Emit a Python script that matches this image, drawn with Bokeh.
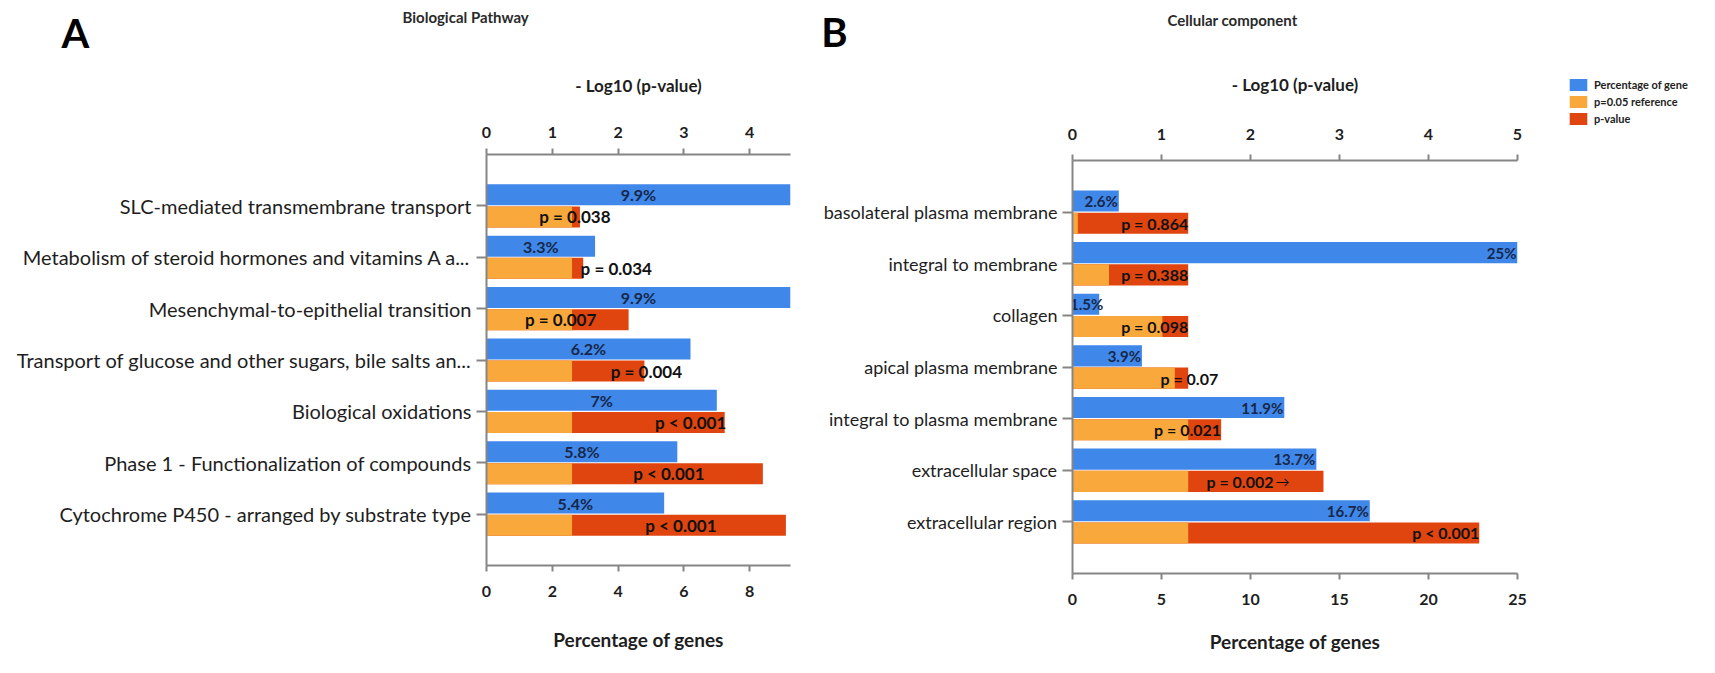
from bokeh.plotting import figure
from bokeh.models import (Range1d, LinearAxis, FixedTicker, Label, Legend, LegendItem,
                          ColumnDataSource)
from bokeh.layouts import row, column
from bokeh.embed import file_html
from bokeh.resources import INLINE
from bokeh.core.properties import value

# ------------------------------------------------------------------ data
bp_categories = ["SLC-mediated transmembrane transport",
                 "Metabolism of steroid hormones and vitamins A a...",
                 "Mesenchymal-to-epithelial transition",
                 "Transport of glucose and other sugars, bile salts an...",
                 "Biological oxidations",
                 "Phase 1 - Functionalization of compounds",
                 "Cytochrome P450 - arranged by substrate type"]
bp_pct = [9.9, 3.3, 9.9, 6.2, 7.0, 5.8, 5.4]
bp_neglogp = [1.42, 1.47, 2.16, 2.40, 3.62, 4.20, 4.55]
bp_pct_labels = ["9.9%", "3.3%", "9.9%", "6.2%", "7%", "5.8%", "5.4%"]
bp_p_labels = ["p = 0.038", "p = 0.034", "p = 0.007", "p = 0.004",
               "p < 0.001", "p < 0.001", "p < 0.001"]
bp_pct_ticks = [0, 2, 4, 6, 8]
bp_log_ticks = [0, 1, 2, 3, 4]

cc_categories = ["basolateral plasma membrane", "integral to membrane", "collagen",
                 "apical plasma membrane", "integral to plasma membrane",
                 "extracellular space", "extracellular region"]
cc_pct = [2.6, 25.0, 1.5, 3.9, 11.9, 13.7, 16.7]
cc_neglogp = [0.06, 0.41, 1.01, 1.15, 1.67, 2.82, 4.57]
cc_pct_labels = ["2.6%", "25%", "1.5%", "3.9%", "11.9%", "13.7%", "16.7%"]
cc_p_labels = ["p = 0.864", "p = 0.388", "p = 0.098", "p = 0.07",
               "p = 0.021", "p = 0.002", "p < 0.001"]
cc_pct_ticks = [0, 5, 10, 15, 20, 25]
cc_log_ticks = [0, 1, 2, 3, 4, 5]

ref_neglogp = 1.30          # -log10(0.05)
legend_labels = ["Percentage of gene", "p=0.05 reference", "p-value"]

# ------------------------------------------------------------------ style / layout
BLUE, ORANGE, RED = "#3f87e8", "#f9a93c", "#e0450f"
AXIS_C = "#858585"
TXT = "#1e1e1e"
FONT = "Lato"

# label nudges (screen px)
bp_p_label_dx = [-5, 33, -68, 2, -34, -94, -105]
cc_p_label_dx = [0, 0, 0, 30, 0, -50, 0]
cc_pct_label_dx = [-1, -1, 4, -1, -1, -1, -1]


def style_axes(p, cat_size):
    for ax in p.xaxis:
        ax.axis_line_color = AXIS_C
        ax.axis_line_width = 2
        ax.major_tick_line_color = AXIS_C
        ax.major_tick_line_width = 2
        ax.major_tick_in = 0
        ax.major_tick_out = 6
        ax.minor_tick_line_color = None
        ax.major_label_text_font = FONT
        ax.major_label_text_font_style = "bold"
        ax.major_label_text_font_size = "16px"
        ax.major_label_text_color = TXT
        ax.axis_label_text_font = FONT
        ax.axis_label_text_font_style = "bold"
        ax.axis_label_text_color = TXT
    yax = p.yaxis[0]
    yax.axis_line_color = AXIS_C
    yax.axis_line_width = 2
    yax.major_tick_line_color = AXIS_C
    yax.major_tick_line_width = 2
    yax.major_tick_in = 0
    yax.major_tick_out = 10
    yax.minor_tick_line_color = None
    yax.major_label_standoff = 5
    yax.major_label_text_font = FONT
    yax.major_label_text_font_size = cat_size
    yax.major_label_text_color = TXT


def make_panel(cats, pct, nlp, pct_lbl, p_lbl, p_dx, pct_dx, pct_max, log_max, pct_ticks,
               log_ticks, width, height, borders, cat_size, pct_font, p_font, pct_mode,
               p_mode, top_std, top_title_std, bot_std, bot_title_std):
    n = len(cats)
    ys = list(range(1, n + 1))
    p = figure(width=width, height=height,
               x_range=Range1d(0, pct_max), y_range=Range1d(n + 1, 0),
               output_backend="svg", toolbar_location=None, frame_align=False,
               min_border_left=borders[0], min_border_right=borders[1],
               min_border_top=borders[2], min_border_bottom=borders[3])
    p.extra_x_ranges = {"log": Range1d(0, log_max)}
    p.outline_line_color = None
    p.xgrid.visible = False
    p.ygrid.visible = False

    bottom = p.below[0]
    bottom.ticker = FixedTicker(ticks=pct_ticks)
    bottom.axis_label = "Percentage of genes"
    top = LinearAxis(x_range_name="log", ticker=FixedTicker(ticks=log_ticks),
                     axis_label="- Log10 (p-value)")
    p.add_layout(top, "above")
    p.yaxis[0].ticker = FixedTicker(ticks=ys)
    p.yaxis[0].major_label_overrides = {y: c for y, c in zip(ys, cats)}

    style_axes(p, cat_size)
    top.axis_label_text_font_size = "17px"
    top.major_label_standoff = top_std
    top.axis_label_standoff = top_title_std
    bottom.axis_label_text_font_size = "19px"
    bottom.major_label_standoff = bot_std
    bottom.axis_label_standoff = bot_title_std

    bh = 0.41
    y_blue = [y - 0.215 for y in ys]
    y_p = [y + 0.215 for y in ys]
    hi = [max(v, ref_neglogp) for v in nlp]
    lo = [min(v, ref_neglogp) for v in nlp]

    p.hbar(y=y_blue, left=0, right=pct, height=bh, fill_color=BLUE, line_color=None)
    p.hbar(y=y_p, left=0, right=hi, height=bh, fill_color=RED, line_color=None,
           x_range_name="log")
    p.hbar(y=y_p, left=0, right=lo, height=bh, fill_color=ORANGE, line_color=None,
           x_range_name="log")

    # percentage labels
    if pct_mode == "center":
        px = [min(v, pct_max) / 2 for v in pct]
    else:
        px = [min(v, pct_max) for v in pct]
    src = ColumnDataSource(dict(x=px, y=y_blue, t=pct_lbl, dx=pct_dx))
    p.text(x="x", y="y", text="t", x_offset="dx", source=src, text_align=pct_mode,
           text_baseline="middle", text_font=value(FONT), text_font_style="bold",
           text_font_size=pct_font, text_color="#17284a")

    # p-value labels
    src2 = ColumnDataSource(dict(x=hi, y=y_p, t=p_lbl, dx=p_dx))
    p.text(x="x", y="y", text="t", x_offset="dx", source=src2, text_align=p_mode,
           text_baseline="middle", text_font=value(FONT), text_font_style="bold",
           text_font_size=p_font, text_color="#111111", x_range_name="log")
    return p


def header(x0, width, height, texts):
    """Strip above a panel; its ranges are page pixels so labels sit where wanted."""
    h = figure(width=width, height=height, x_range=Range1d(x0, x0 + width),
               y_range=Range1d(8 + height, 8), output_backend="svg", toolbar_location=None,
               x_axis_location=None, y_axis_location=None, min_border=0,
               outline_line_color=None, frame_align=False)
    h.xgrid.visible = False
    h.ygrid.visible = False
    for txt, x, y, size, align, col in texts:
        h.add_layout(Label(x=x, y=y, text=txt, text_font=FONT, text_font_style="bold",
                           text_font_size=size, text_align=align, text_baseline="middle",
                           text_color=col))
    return h


# ---------------- left column: page x 8..828
headA = header(8, 820, 60, [("A", 83, 40, "40px", "center", "#000000"),
                            ("Biological Pathway", 410, 24, "15px", "left", "#2a2a2a")])
pA = make_panel(bp_categories, bp_pct, bp_neglogp, bp_pct_labels, bp_p_labels, bp_p_label_dx,
                [0] * len(bp_pct), 9.24, 4.62, bp_pct_ticks, bp_log_ticks, 820, 597,
                (486, 30, 94, 92), "20px", "16px", "17px", "center", "center",
                11, 28, 14, 28)

# ---------------- right column: page x 828..1560
headB = header(828, 732, 66, [("B", 842, 39, "40px", "center", "#000000"),
                              ("Cellular component", 1175, 27, "15px", "left", "#2a2a2a")])
pB = make_panel(cc_categories, cc_pct, cc_neglogp, cc_pct_labels, cc_p_labels, cc_p_label_dx,
                cc_pct_label_dx, 25, 5, cc_pct_ticks, cc_log_ticks, 732, 591,
                (238, 35, 94, 84), "18px", "15px", "16px", "right", "right",
                15, 31, 14, 22)
# small arrow next to the extracellular space label
pB.add_layout(Label(x=cc_neglogp[5], y=6.215, x_range_name="log", x_offset=-48,
                    text="\u2192", text_font=FONT, text_font_size="14px",
                    text_align="left", text_baseline="middle", text_color="#111111"))

# ---------------- legend strip, page x 1560..1707, y 8..665
LEG_W, LEG_H = 147, 657
pL = figure(width=LEG_W, height=LEG_H, x_range=Range1d(0, 1), y_range=Range1d(0, 1),
            output_backend="svg", toolbar_location=None, x_axis_location=None,
            y_axis_location=None, min_border=0, outline_line_color=None, frame_align=False)
pL.xgrid.visible = False
pL.ygrid.visible = False
items = []
for lab, col in zip(legend_labels, [BLUE, ORANGE, RED]):
    r = pL.hbar(y=[0], left=[0], right=[0], height=0, fill_color=col, line_color=None)
    items.append(LegendItem(label=lab, renderers=[r]))
# legend box: left at page x 1575, top at page y 85 (3 rows of 15px + 2px spacing)
legend = Legend(items=items, location=(15, LEG_H - (85 - 8) - 49), orientation="vertical",
                background_fill_alpha=0, border_line_alpha=0, padding=0, margin=0,
                spacing=2, glyph_width=22, glyph_height=15, label_standoff=5,
                label_text_font=FONT, label_text_font_style="bold",
                label_text_font_size="11px", label_text_color="#222222",
                label_height=15)
pL.add_layout(legend)

layout = row(column(headA, pA, spacing=0), column(headB, pB, spacing=0), pL, spacing=0)
open("out.html", "w").write(file_html(layout, INLINE))
